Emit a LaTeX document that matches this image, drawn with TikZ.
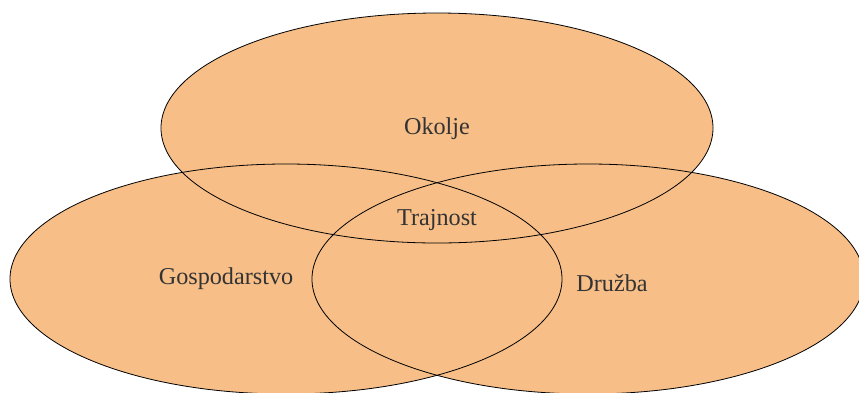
\documentclass[tikz,border=0pt]{standalone}
\usepackage{fontspec}
\setmainfont{Liberation Serif}
\definecolor{petal}{HTML}{F7BE87}
\definecolor{ink}{HTML}{333333}
\begin{document}
\begin{tikzpicture}[x=1pt,y=-1pt,
  petalfill/.style={fill=petal},
  petalline/.style={draw=black,line width=0.8pt},
  lbl/.style={text=ink,font=\fontsize{24.2}{28}\selectfont,inner sep=0pt}]
\useasboundingbox (0,0) rectangle (859,392);
\begin{scope}
\clip (0,0) rectangle (859,392);
\fill[petalfill] (437,128) ellipse [x radius=276, y radius=115];
\fill[petalfill] (286,279) ellipse [x radius=276, y radius=115];
\fill[petalfill] (588,279) ellipse [x radius=276, y radius=115];
\draw[petalline] (437,128) ellipse [x radius=276, y radius=115];
\draw[petalline] (286,279) ellipse [x radius=276, y radius=115];
\draw[petalline] (588,279) ellipse [x radius=276, y radius=115];
\end{scope}
\node[lbl] (okolje) at (437,129) {Okolje};
\node[lbl] (trajnost) at (437,220) {Trajnost};
\node[lbl] (gosp) at (226,279) {Gospodarstvo};
\node[lbl] (druzba) at (612,283) {Družba};
\end{tikzpicture}
\end{document}
